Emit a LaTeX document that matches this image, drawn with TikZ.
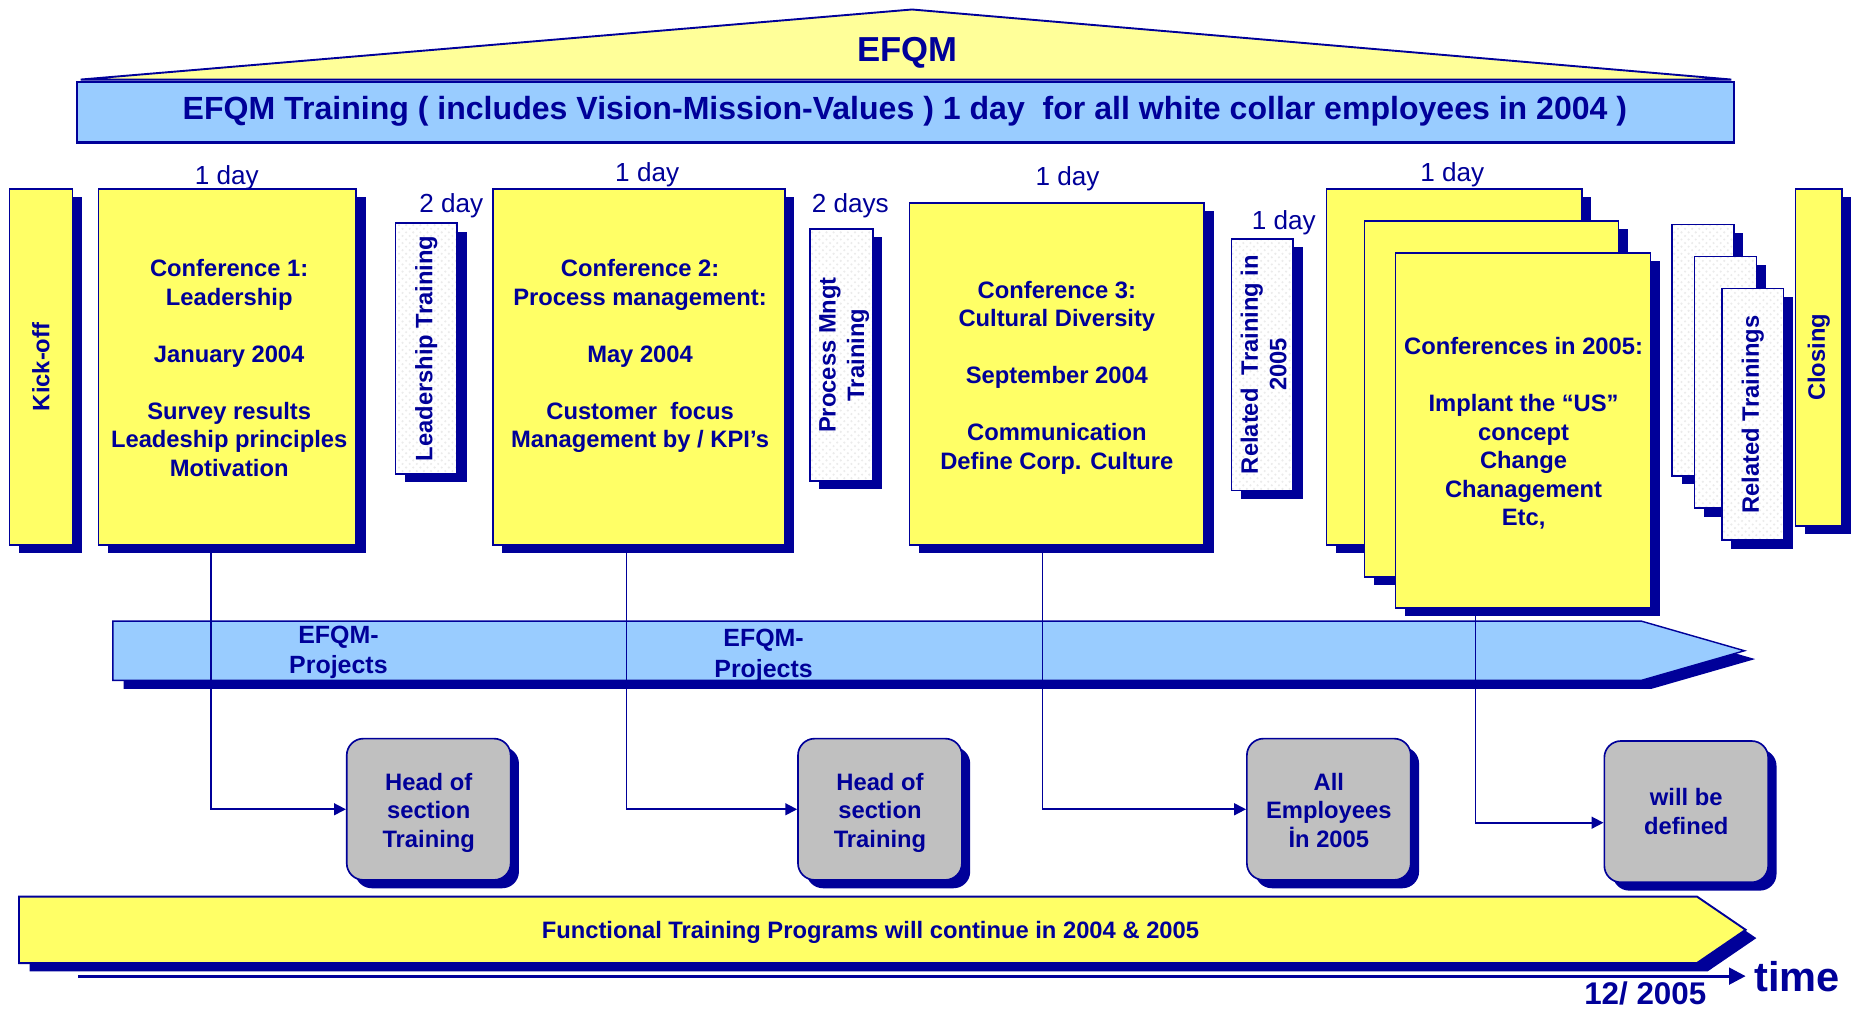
\documentclass[tikz,border=0pt]{standalone}
\usepackage{fontspec}
\setmainfont{Liberation Sans}
\usetikzlibrary{fit,shadows,arrows.meta,calc,patterns}
\definecolor{navy}{HTML}{000099}
\definecolor{yel}{HTML}{FFFF66}
\definecolor{lyel}{HTML}{FFFF99}
\definecolor{sky}{HTML}{99CCFF}
\definecolor{silver}{HTML}{C0C0C0}
\newcommand{\myconf}{\fontsize{10}{12}\selectfont\bfseries}
\newcommand{\myday}{\fontsize{11}{13}\selectfont}
\newcommand{\mybar}{\fontsize{13.5}{15}\selectfont\bfseries}
\newcommand{\mytitle}{\fontsize{14.6}{17}\selectfont\bfseries}
\newcommand{\myproj}{\fontsize{10.5}{13}\selectfont\bfseries}
\newcommand{\mytime}{\fontsize{17.5}{20}\selectfont\bfseries}
\newcommand{\mydate}{\fontsize{13.2}{15}\selectfont\bfseries}
\tikzset{
  shad/.style={drop shadow={shadow xshift=4pt,shadow yshift=-3.5pt,opacity=1,fill=navy}},
  ybox/.style={draw=navy,line width=0.7pt,fill=yel,inner sep=0pt,shad},
  wbox/.style={draw=navy,line width=0.7pt,fill=white,inner sep=0pt,shad,
     postaction={pattern=crosshatch dots,pattern color=black!8},
     postaction={draw=navy,line width=0.7pt}},
  gbox/.style={draw=navy,line width=0.7pt,fill=silver,inner sep=0pt,rounded corners=7pt,
     drop shadow={shadow xshift=3.5pt,shadow yshift=-3.5pt,opacity=1,fill=navy}},
  gtxt/.style={text=navy,font=\myconf,align=center,inner sep=0pt},
  conftxt/.style={text=navy,font=\myconf,align=center,inner sep=0pt},
  rottxt/.style={text=navy,font=\myconf,align=center,inner sep=0pt,rotate=90},
  daytxt/.style={text=navy,font=\myday,inner sep=0pt,anchor=base},
  conn/.style={draw=navy,line width=0.7pt,-{Triangle[length=5pt,width=5pt]}},
}
\begin{document}
\begin{tikzpicture}[x=0.5pt,y=-0.5pt]
\useasboundingbox (0,0) rectangle (1568,849.7);
% roof
\path[draw=navy,line width=0.8pt,fill=lyel] (68,67) -- (768,8) -- (1458,67) -- cycle;
\node[text=navy,font=\mytitle,anchor=base,inner sep=0pt] (efqm) at (764,52) {EFQM};
% training bar
\node[draw=navy,line width=1pt,fill=sky,inner sep=0pt,fit={(65,69) (1460,120)}] (bar) {};
\node[text=navy,font=\mybar,anchor=base,inner sep=0pt] (bartxt) at (762,101)
  {EFQM Training ( includes Vision-Mission-Values ) 1 day~ for all white collar employees in 2004 )};
% top boxes
\node[ybox,fit={(8,159) (61,459)}] (kick) {};
\node[rottxt] (kicktxt) at (kick.center) {Kick-off};
\node[ybox,fit={(83,159) (300,459)}] (conf1) {};
\node[conftxt] (conf1txt) at (193,310) {Conference 1:\\Leadership\\[12pt]January 2004\\[12pt]Survey results\\Leadeship principles\\Motivation};
\node[wbox,fit={(333,188) (385,399)}] (lead) {};
\node[rottxt] (leadtxt) at (lead.center) {Leadership Training};
\node[ybox,fit={(415,159) (661,459)}] (conf2) {};
\node[conftxt] (conf2txt) at (539,300) {Conference 2:\\Process management:\\[12pt]May 2004\\[12pt]Customer~ focus\\Management by / KPI’s};
\node[wbox,fit={(682,193) (735,405)}] (proc) {};
\node[rottxt] (proctxt) at (711,299) {Process Mngt\\Training};
\node[ybox,fit={(766,171) (1014,459)}] (conf3) {};
\node[conftxt] (conf3txt) at (890,318) {Conference 3:\\Cultural Diversity\\[12pt]September 2004\\[12pt]Communication\\Define Corp. Culture};
\node[wbox,fit={(1037,201) (1089,413)}] (rel05) {};
\node[rottxt] (rel05txt) at (1064,307) {Related~ Training in\\2005};
\node[ybox,fit={(1117,159) (1332,459)}] (c05a) {};
\node[ybox,fit={(1149,186) (1363,486)}] (c05b) {};
\node[ybox,fit={(1175,213) (1390,512)}] (c05c) {};
\node[conftxt] (c05txt) at (1283,365) {Conferences in 2005:\\[12pt]Implant the “US”\\concept\\Change\\Chanagement\\Etc,};
\node[wbox,fit={(1408,189) (1460,401)}] (rt1) {};
\node[wbox,fit={(1427,216) (1479,428)}] (rt2) {};
\node[wbox,fit={(1450,243) (1502,455)}] (rt3) {};
\node[rottxt] (rttxt) at (rt3.center) {Related Trainings};
\node[ybox,fit={(1512,159) (1551,443)}] (closing) {};
\node[rottxt] (closingtxt) at (closing.center) {Closing};
% day labels
\node[daytxt] (d1) at (191,155.5) {1 day};
\node[daytxt] (d2) at (380,179) {2 day};
\node[daytxt] (d3) at (545,153) {1 day};
\node[daytxt] (d4) at (716,179) {2 days};
\node[daytxt] (d5) at (899,156) {1 day};
\node[daytxt] (d6) at (1081,193) {1 day};
\node[daytxt] (d7) at (1223,153) {1 day};
% EFQM projects arrow
\path[fill=navy,shift={(9,7)}] (95,523) -- (1382,523) -- (1469,548) -- (1382,573) -- (95,573) -- cycle;
\path[fill=sky,draw=navy,line width=0.6pt] (95,523) -- (1382,523) -- (1469,548) -- (1382,573) -- (95,573) -- cycle;
\node[text=navy,font=\myproj,align=center,inner sep=0pt] (p1) at (285,549.4) {EFQM-\\Projects};
\node[text=navy,font=\myproj,align=center,inner sep=0pt] (p2) at (643,552.5) {EFQM-\\Projects};
% gray boxes
\node[gbox,fit={(292,622) (430,741)}] (hst1) {};
\node[gtxt] (hst1t) at ($(hst1.center)+(0,3)$) {Head of\\section\\Training};
\node[gbox,fit={(672,622) (810,741)}] (hst2) {};
\node[gtxt] (hst2t) at ($(hst2.center)+(0,3)$) {Head of\\section\\Training};
\node[gbox,fit={(1050,622) (1188,741)}] (allemp) {};
\node[gtxt] (allempt) at ($(allemp.center)+(0,1)$) {All\\Employees\\İn 2005};
\node[gbox,fit={(1351,624) (1489,743)}] (will) {};
\node[gtxt] (willt) at (will.center) {will be\\defined};
% connectors
\coordinate (k1) at (177.6,459);
\coordinate (k2) at (527.6,459);
\coordinate (k3) at (878,459);
\coordinate (k4) at (1242.5,512);
\draw[conn] (k1) |- (hst1);
\draw[conn] (k2) |- (hst2);
\draw[conn] (k3) |- (allemp);
\draw[conn] (k4) |- ($(will.west)+(0,9.3)$);
% functional training arrow
\path[fill=navy,shift={(9,7)}] (16,755) -- (1429,755) -- (1470,783) -- (1429,811) -- (16,811) -- cycle;
\path[fill=yel,draw=navy,line width=0.8pt] (16,755) -- (1429,755) -- (1470,783) -- (1429,811) -- (16,811) -- cycle;
\node[text=navy,font=\myconf,inner sep=0pt] (func) at (733,785) {Functional Training Programs will continue in 2004 \& 2005};
% time axis
\coordinate (t0) at (66,822);
\coordinate (t1) at (1470,822);
\draw[navy,line width=1.3pt,-{Triangle[length=7pt,width=7pt]}] (t0) -- (t1);
\node[text=navy,font=\mytime,anchor=base west,inner sep=0pt] (time) at (1477,835) {time};
\node[text=navy,font=\mydate,anchor=base,inner sep=0pt] (date) at (1385.5,846) {12/ 2005};
\end{tikzpicture}
\end{document}
